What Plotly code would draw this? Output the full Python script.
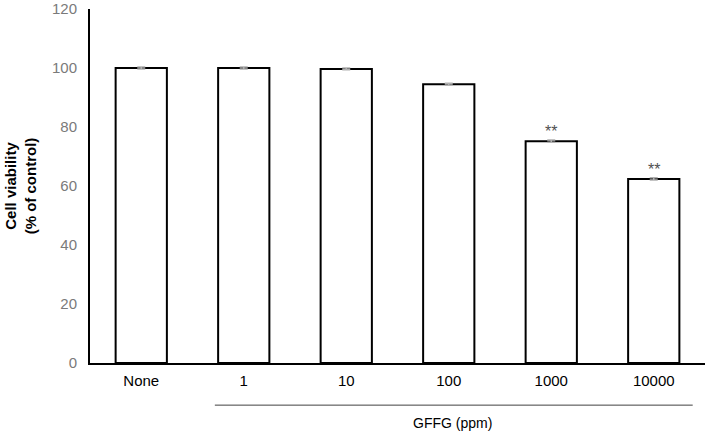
import plotly.graph_objects as go

categories = ["None", "1", "10", "100", "1000", "10000"]
viability = [100.0, 100.0, 99.7, 94.5, 75.2, 62.4]
errors = [0.3, 0.3, 0.3, 0.3, 0.4, 0.4]
significance = ["", "", "", "", "**", "**"]
y_ticks = [0, 20, 40, 60, 80, 100, 120]

positions = list(range(len(categories)))

fig = go.Figure()
fig.add_trace(go.Bar(
    x=positions, y=viability,
    width=0.5,
    marker=dict(color="white", line=dict(color="black", width=2)),
    error_y=dict(type="data", array=errors, visible=True, color="#b0b0b0", thickness=1.5, width=4),
    showlegend=False,
))

for p, v, e, s in zip(positions, viability, errors, significance):
    if s:
        fig.add_annotation(x=p, y=v + e, text=s, showarrow=False, yanchor="bottom", yshift=-2,
                           font=dict(family="Liberation Sans, Arial", size=16, color="#505050"))

fig.add_shape(type="line", xref="paper", yref="paper", x0=0.203, x1=0.98, y0=-0.119, y1=-0.119,
              line=dict(color="#404040", width=1))
fig.add_annotation(xref="paper", yref="paper", x=0.589, y=-0.17, text="GFFG (ppm)", showarrow=False,
                   yanchor="middle", font=dict(family="Liberation Sans, Arial", size=14, color="black"))

fig.update_layout(
    width=706, height=433,
    margin=dict(l=90, r=1, t=9, b=70),
    plot_bgcolor="white", paper_bgcolor="white",
    font=dict(family="Liberation Sans, Arial"),
    xaxis=dict(range=[-0.5, len(categories) - 0.5], tickvals=positions, ticktext=categories,
               showline=True, linecolor="black", linewidth=2, ticks="", showgrid=False, zeroline=False,
               tickfont=dict(size=15, color="black"), ticklabelstandoff=3),
    yaxis=dict(range=[0, 120], tickvals=y_ticks, showline=True, linecolor="black", linewidth=2,
               ticks="", showgrid=False, zeroline=False,
               tickfont=dict(size=15, color="#7a7a7a"), ticklabelstandoff=8,
               title=dict(text="<b>Cell viability<br>(% of control)</b>", standoff=12,
                          font=dict(size=15, color="black"))),
)

fig.write_html("out.html", config={"displayModeBar": False},
               post_script="document.body.style.margin='0';")
